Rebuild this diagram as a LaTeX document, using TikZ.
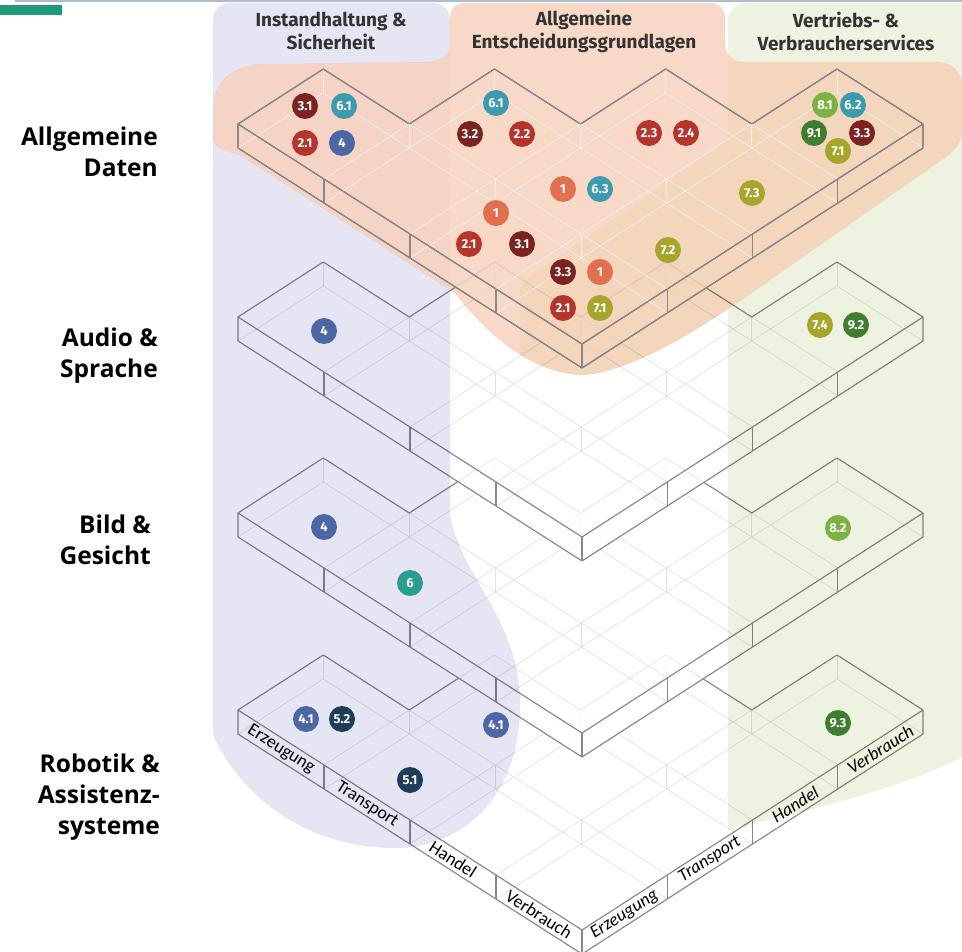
\documentclass[tikz,border=0pt]{standalone}
\usepackage{fontspec}
\setmainfont{Fira Sans}
\newfontfamily\hdrfont{Fira Sans}
\newfontfamily\rowfont{Open Sans}
\newfontfamily\facefont{Carlito}
\usetikzlibrary{calc}

\definecolor{lavbg}{RGB}{229,229,243}
\definecolor{peachbg}{RGB}{248,217,199}
\definecolor{greenbg}{RGB}{237,243,224}
\definecolor{tanshift}{RGB}{250,252,242}
\definecolor{lavshift}{RGB}{252,249,253}
\definecolor{edgegray}{RGB}{135,135,140}
\definecolor{topline}{RGB}{172,190,206}
\definecolor{tealbar}{RGB}{29,155,122}
\definecolor{cmaroon}{RGB}{123,35,32}
\definecolor{cred}{RGB}{181,52,43}
\definecolor{csalmon}{RGB}{226,112,79}
\definecolor{cteal}{RGB}{61,155,175}
\definecolor{ctealgreen}{RGB}{42,157,143}
\definecolor{cblue}{RGB}{76,102,166}
\definecolor{cnavy}{RGB}{30,61,90}
\definecolor{colive}{RGB}{165,166,43}
\definecolor{clgreen}{RGB}{123,179,65}
\definecolor{cdgreen}{RGB}{63,126,46}

\tikzset{
  faint/.style={draw=black!11, line width=0.7pt},
  lightgrid/.style={draw=white, draw opacity=0.75, line width=0.8pt},
  slabedge/.style={draw=edgegray, line width=1.15pt, line join=round},
  dot/.style={circle, fill=#1, minimum size=26pt, inner sep=0pt, text=white,
    font=\hdrfont\bfseries\fontsize{13}{13}\selectfont},
  rowlabel/.style={align=right, anchor=east, inner sep=0pt,
    font=\rowfont\bfseries\fontsize{24.5}{31}\selectfont},
  colhead/.style={align=center, inner sep=0pt, text=black!80,
    font=\hdrfont\bfseries\fontsize{19}{23}\selectfont},
  facelabel/.style={inner sep=0pt, font=\facefont\fontsize{18}{18}\selectfont},
  facelabelr/.style={inner sep=0pt, font=\facefont\itshape\fontsize{18}{18}\selectfont},
}

% isometric frame of one slab: origin at its left top corner (pixel y)
\newcommand{\inslab}[2]{\begin{scope}[shift={(238pt,-#1pt)},
  x={(86pt,-55pt)}, y={(85.25pt,55pt)}, z={(0pt,-1pt)}]#2\end{scope}}

\newcommand{\slabfill}{%
  \fill[white, fill opacity=0.85] (0,0,0) -- (0,1,0) -- (1,1,0) -- (1,2,0) -- (2,2,0)
    -- (2,3,0) -- (3,3,0) -- (3,4,0) -- (4,4,0) -- (4,4,24) -- (4,0,24) -- (0,0,24) -- cycle;}

\newcommand{\slabfaint}[1]{%
  \foreach \i in {1,2,3} {
    \draw[#1] (\i,0,0) -- (\i,\i,0);
    \draw[#1] (\i,\i,0) -- (4,\i,0);
    \draw[#1] (\i,0,24) -- (\i,\i,24);
    \draw[#1] (\i,\i,24) -- (4,\i,24);
  }
  \draw[#1] (0,0,24) -- (0,1,24) -- (1,1,24) -- (1,2,24) -- (2,2,24) -- (2,3,24)
    -- (3,3,24) -- (3,4,24) -- (4,4,24);
  \foreach \u in {0,...,3} {\foreach \v in {1,...,4} {%
    \ifnum\v>\numexpr\u+1\relax\else\draw[#1] (\u,\v,0) -- (\u,\v,24);\fi}}}

\newcommand{\slabedges}{%
  \draw[slabedge] (0,0,0) -- (0,1,0) -- (1,1,0) -- (1,2,0) -- (2,2,0) -- (2,3,0)
    -- (3,3,0) -- (3,4,0) -- (4,4,0) -- (4,0,0) -- cycle;
  \draw[slabedge] (0,0,0) -- (0,0,24) -- (4,0,24) -- (4,4,24) -- (4,4,0);
  \draw[slabedge] (4,0,0) -- (4,0,24);
  \foreach \i in {1,2,3} {
    \draw[slabedge] (\i,0,0) -- (\i,0,24);
    \draw[slabedge] (4,\i,0) -- (4,\i,24);
  }}

\newcommand{\slab}[1]{\inslab{#1}{\slabfill\slabfaint{faint}\slabedges}}

% outline of the peach area (pixel coordinates)
\newcommand{\peachpath}{(465,3) -- (710,3) .. controls (719,3) and (725,9) .. (725,18)
  -- (725,42) .. controls (725,55) and (732,62) .. (745,62) -- (937,62)
  .. controls (952,62) and (962,72) .. (962,87) -- (962,130)
  .. controls (962,145) and (952,153) .. (940,161) -- (760,287)
  .. controls (700,330) and (630,373) .. (582,375)
  .. controls (540,374) and (495,345) .. (455,293) -- (240,155)
  .. controls (225,150) and (213,150) .. (213,135) -- (213,110)
  .. controls (213,80) and (235,64) .. (265,64) -- (428,62)
  .. controls (442,62) and (450,55) .. (450,42) -- (450,18)
  .. controls (450,9) and (456,3) .. (465,3) -- cycle}

\begin{document}
\begin{tikzpicture}[x=1pt, y=-1pt]
\useasboundingbox (0,0) rectangle (962,952);
\fill[white] (0,0) rectangle (962,952);

% stacked slabs, lowest first so upper ones cover them
\slab{710}
\slab{513}
\slab{317}
\slab{124}

% coloured field areas outside the peach area
\begin{scope}[even odd rule]
  \clip (-10,-10) rectangle (972,962) \peachpath;
  \fill[lavbg, blend mode=multiply] (230,3) -- (433,3) .. controls (443,3) and (450,10) .. (450,20)
    -- (450,515) .. controls (462,580) and (522,620) .. (520,710)
    .. controls (518,800) and (460,848) .. (395,848)
    .. controls (305,848) and (240,795) .. (213,735)
    -- (213,20) .. controls (213,10) and (220,3) .. (230,3) -- cycle;
  \fill[greenbg, blend mode=multiply] (746,3) -- (962,3) -- (962,757)
    .. controls (900,790) and (800,812) .. (728,830)
    -- (728,21) .. controls (728,11) and (736,3) .. (746,3) -- cycle;
\end{scope}
% peach area, with its tan and muted parts
\fill[peachbg, blend mode=multiply] \peachpath;
\begin{scope}
  \clip \peachpath;
  \fill[tanshift, blend mode=multiply] (520,300) .. controls (518,288) and (524,280) .. (535,273)
    -- (728,140) -- (728,62) -- (962,62) -- (962,420) -- (520,420) -- cycle;
  \fill[lavshift, blend mode=multiply] (200,50) rectangle (450,420);
\end{scope}

% light grid on the top slab
\inslab{124}{\slabfaint{lightgrid}\slabedges}

% header bar
\draw[topline, line width=1.5pt] (15,1) -- (962,1);
\fill[tealbar] (0,5) rectangle (62,15);

% column headers
\node[colhead] (hA) at (331,31) {Instandhaltung \&\\Sicherheit};
\node[colhead] (hB) at (584,31) {Allgemeine\\Entscheidungsgrundlagen};
\node[colhead] (hC) at (846,31) {Vertriebs- \&\\Verbraucherservices};

% row labels
\node[rowlabel] (r1) at (158,152) {Allgemeine\\Daten};
\node[rowlabel] (r2) at (158,356) {Audio \&\\Sprache};
\node[rowlabel] (r3) at (151,540) {Bild \&\\Gesicht};
\node[rowlabel] (r4) at (160,797) {Robotik \&\\Assistenz-\\systeme};

% value-chain labels on the lowest slab
\inslab{710}{
  \node[facelabel, rotate=-32.6] (fl1) at (0.5,0,12) {Erzeugung};
  \node[facelabel, rotate=-32.6] (fl2) at (1.5,0,12) {Transport};
  \node[facelabel, rotate=-32.6] (fl3) at (2.5,0,12) {Handel};
  \node[facelabel, rotate=-32.6] (fl4) at (3.5,0,12) {Verbrauch};
  \node[facelabelr, rotate=32.6] (fr1) at (4,0.5,12) {Erzeugung};
  \node[facelabelr, rotate=32.6] (fr2) at (4,1.5,12) {Transport};
  \node[facelabelr, rotate=32.6] (fr3) at (4,2.5,12) {Handel};
  \node[facelabelr, rotate=32.6] (fr4) at (4,3.5,12) {Verbrauch};
}

% use cases: Allgemeine Daten
\node[dot=cmaroon] (d1) at (305,106) {3.1};
\node[dot=cteal] (d2) at (344,106) {6.1};
\node[dot=cred] (d3) at (305,143) {2.1};
\node[dot=cblue] (d4) at (342,143) {4};
\node[dot=cteal] (d5) at (496,103) {6.1};
\node[dot=cmaroon] (d6) at (470,134) {3.2};
\node[dot=cred] (d7) at (522,134) {2.2};
\node[dot=cred] (d8) at (649,133) {2.3};
\node[dot=cred] (d9) at (686,133) {2.4};
\node[dot=csalmon] (d10) at (563,189) {1};
\node[dot=cteal] (d11) at (600,189) {6.3};
\node[dot=csalmon] (d12) at (496,213) {1};
\node[dot=cred] (d13) at (469,244) {2.1};
\node[dot=cmaroon] (d14) at (522,244) {3.1};
\node[dot=cmaroon] (d15) at (563,272) {3.3};
\node[dot=csalmon] (d16) at (600,272) {1};
\node[dot=cred] (d17) at (563,308) {2.1};
\node[dot=colive] (d18) at (600,308) {7.1};
\node[dot=colive] (d19) at (668,250) {7.2};
\node[dot=colive] (d20) at (752,193) {7.3};
\node[dot=clgreen] (d21) at (825,105) {8.1};
\node[dot=cteal] (d22) at (853,105) {6.2};
\node[dot=cdgreen] (d23) at (814,133) {9.1};
\node[dot=cmaroon] (d24) at (862,133) {3.3};
\node[dot=colive] (d25) at (838,151) {7.1};
% Audio & Sprache
\node[dot=cblue] (d26) at (324,331) {4};
\node[dot=colive] (d27) at (820,325) {7.4};
\node[dot=cdgreen] (d28) at (856,325) {9.2};
% Bild & Gesicht
\node[dot=cblue] (d29) at (324,527) {4};
\node[dot=ctealgreen] (d30) at (410,583) {6};
\node[dot=clgreen] (d31) at (838,528) {8.2};
% Robotik & Assistenzsysteme
\node[dot=cblue] (d32) at (306,719) {4.1};
\node[dot=cnavy] (d33) at (342,719) {5.2};
\node[dot=cblue] (d34) at (496,725) {4.1};
\node[dot=cnavy] (d35) at (410,780) {5.1};
\node[dot=cdgreen] (d36) at (838,723) {9.3};
\end{tikzpicture}
\end{document}
